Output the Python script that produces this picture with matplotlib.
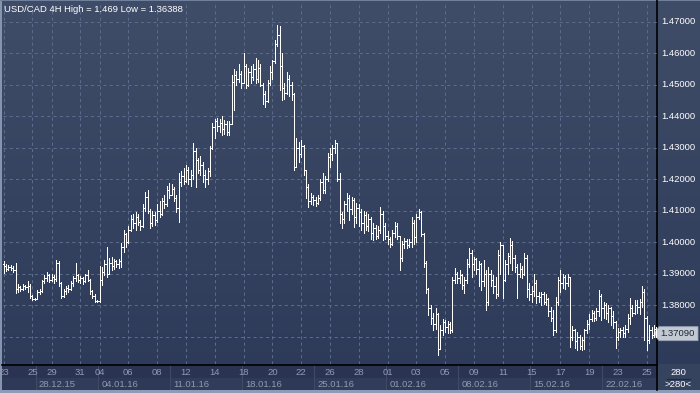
import numpy as np
import pandas as pd
import matplotlib
matplotlib.use("Agg")
import matplotlib.pyplot as plt
from matplotlib.patches import Rectangle, Polygon
from matplotlib.lines import Line2D

# ---------------- data (USD/CAD, 4H bars) ----------------
title_text = "USD/CAD 4H High = 1.469 Low = 1.36388"
last_price = 1.3709
last_price_label = "1.37090"
bar_count_label = "280"
bar_count_label2 = ">280<"

trading_days = pd.bdate_range("2015-12-23", "2016-02-25")
short_days = {"2015-12-25": 2, "2016-01-01": 2, "2016-02-25": 5}

open0 = 1.3930
closes = [
    1.3925, 1.3915, 1.3922, 1.3918, 1.3912, 1.3850,
    1.3858, 1.3850, 1.3860, 1.3856, 1.3862, 1.3830,
    1.3818, 1.3818,
    1.3840, 1.3845, 1.3875, 1.3885, 1.3895, 1.3880,
    1.3890, 1.3882, 1.3935, 1.3870, 1.3830, 1.3845,
    1.3855, 1.3850, 1.3870, 1.3885, 1.3895, 1.3880,
    1.3885, 1.3875, 1.3895, 1.3880, 1.3845, 1.3830,
    1.3812, 1.3812,
    1.3880, 1.3905, 1.3930, 1.3900, 1.3935, 1.3925,
    1.3940, 1.3930, 1.3940, 1.3985, 1.4025, 1.4000,
    1.4040, 1.4075, 1.4060, 1.4080, 1.4065, 1.4050,
    1.4110, 1.4145, 1.4100, 1.4060, 1.4085, 1.4070,
    1.4100, 1.4090, 1.4130, 1.4120, 1.4165, 1.4150,
    1.4170, 1.4140, 1.4110, 1.4190, 1.4210, 1.4195,
    1.4230, 1.4200, 1.4215, 1.4290, 1.4260, 1.4230,
    1.4245, 1.4215, 1.4200, 1.4225, 1.4300, 1.4365,
    1.4385, 1.4370, 1.4380, 1.4360, 1.4375, 1.4350,
    1.4375, 1.4510, 1.4530, 1.4520, 1.4535, 1.4505,
    1.4560, 1.4500, 1.4540, 1.4525, 1.4550, 1.4520,
    1.4555, 1.4500, 1.4470, 1.4450, 1.4505, 1.4540,
    1.4575, 1.4630, 1.4660, 1.4560, 1.4490, 1.4475,
    1.4520, 1.4500, 1.4470, 1.4240, 1.4300, 1.4280,
    1.4305, 1.4230, 1.4175, 1.4130, 1.4145, 1.4135,
    1.4125, 1.4140, 1.4190, 1.4165, 1.4200, 1.4270,
    1.4280, 1.4300, 1.4315, 1.4200, 1.4090, 1.4075,
    1.4120, 1.4140, 1.4105, 1.4135, 1.4080, 1.4110,
    1.4095, 1.4060, 1.4085, 1.4050, 1.4075, 1.4030,
    1.4045, 1.4020, 1.4040, 1.4090, 1.4050, 1.4020,
    1.4010, 1.3995, 1.4030, 1.4050, 1.4020, 1.3950,
    1.3995, 1.4005, 1.3990, 1.4000, 1.4060, 1.4015,
    1.4080, 1.4095, 1.4025, 1.3935, 1.3850, 1.3790,
    1.3760, 1.3740, 1.3770, 1.3660, 1.3720, 1.3745,
    1.3730, 1.3740, 1.3720, 1.3880, 1.3900, 1.3885,
    1.3895, 1.3865, 1.3880, 1.3930, 1.3965, 1.3930,
    1.3945, 1.3915, 1.3930, 1.3875, 1.3900, 1.3810,
    1.3900, 1.3880, 1.3860, 1.3835, 1.3960, 1.3990,
    1.3880, 1.3930, 1.3955, 1.3990, 1.3950, 1.3920,
    1.3900, 1.3915, 1.3900, 1.3950, 1.3850, 1.3835,
    1.3845, 1.3870, 1.3830, 1.3825, 1.3835, 1.3810,
    1.3820, 1.3780, 1.3760, 1.3720, 1.3810, 1.3880,
    1.3870, 1.3890, 1.3870, 1.3890, 1.3700, 1.3720,
    1.3685, 1.3700, 1.3670, 1.3690, 1.3720, 1.3740,
    1.3755, 1.3775, 1.3760, 1.3780, 1.3830, 1.3790,
    1.3800, 1.3775, 1.3790, 1.3765, 1.3745, 1.3700,
    1.3715, 1.3720, 1.3710, 1.3725, 1.3760, 1.3790,
    1.3775, 1.3800, 1.3795, 1.3810, 1.3840, 1.3760,
    1.3690, 1.3720, 1.3705, 1.3725, 1.3709,
]
highs = [
    1.3940, 1.3930, 1.3928, 1.3926, 1.3924, 1.3935,
    1.3866, 1.3862, 1.3866, 1.3864, 1.3875, 1.3868,
    1.3832, 1.3822,
    1.3848, 1.3852, 1.3880, 1.3895, 1.3905, 1.3900,
    1.3898, 1.3895, 1.3942, 1.3940, 1.3872, 1.3850,
    1.3860, 1.3865, 1.3875, 1.3892, 1.3934, 1.3900,
    1.3892, 1.3888, 1.3900, 1.3912, 1.3882, 1.3848,
    1.3835, 1.3815,
    1.3925, 1.3920, 1.3943, 1.3985, 1.3950, 1.3954,
    1.3948, 1.3943, 1.3945, 1.3996, 1.4039, 1.4030,
    1.4050, 1.4085, 1.4090, 1.4095, 1.4088, 1.4072,
    1.4120, 1.4160, 1.4166, 1.4105, 1.4100, 1.4095,
    1.4120, 1.4130, 1.4140, 1.4150, 1.4180, 1.4188,
    1.4185, 1.4175, 1.4150, 1.4220, 1.4225, 1.4235,
    1.4245, 1.4240, 1.4228, 1.4315, 1.4300, 1.4268,
    1.4275, 1.4255, 1.4230, 1.4235, 1.4305, 1.4380,
    1.4390, 1.4395, 1.4392, 1.4400, 1.4388, 1.4385,
    1.4385, 1.4531, 1.4550, 1.4545, 1.4565, 1.4545,
    1.4600, 1.4565, 1.4555, 1.4560, 1.4565, 1.4585,
    1.4580, 1.4565, 1.4505, 1.4480, 1.4515, 1.4560,
    1.4580, 1.4643, 1.4691, 1.4688, 1.4600, 1.4505,
    1.4542, 1.4530, 1.4510, 1.4475, 1.4331, 1.4320,
    1.4325, 1.4310, 1.4219, 1.4185, 1.4155, 1.4150,
    1.4145, 1.4150, 1.4200, 1.4219, 1.4210, 1.4285,
    1.4300, 1.4310, 1.4325, 1.4310, 1.4219, 1.4097,
    1.4130, 1.4155, 1.4150, 1.4145, 1.4140, 1.4123,
    1.4120, 1.4105, 1.4100, 1.4095, 1.4090, 1.4080,
    1.4060, 1.4055, 1.4050, 1.4113, 1.4100, 1.4060,
    1.4035, 1.4017, 1.4040, 1.4065, 1.4060, 1.4007,
    1.4005, 1.4012, 1.4010, 1.4010, 1.4081, 1.4070,
    1.4090, 1.4105, 1.4100, 1.4030, 1.3940, 1.3853,
    1.3800, 1.3775, 1.3790, 1.3775, 1.3735, 1.3757,
    1.3752, 1.3750, 1.3745, 1.3890, 1.3917, 1.3905,
    1.3910, 1.3900, 1.3890, 1.3945, 1.3980, 1.3975,
    1.3954, 1.3950, 1.3940, 1.3935, 1.3943, 1.3910,
    1.3922, 1.3910, 1.3895, 1.3890, 1.3975, 1.4001,
    1.3975, 1.3943, 1.3965, 1.4012, 1.4005, 1.3960,
    1.3930, 1.3933, 1.3925, 1.3965, 1.3960, 1.3870,
    1.3860, 1.3900, 1.3880, 1.3843, 1.3843, 1.3840,
    1.3835, 1.3822, 1.3795, 1.3785, 1.3827, 1.3890,
    1.3912, 1.3900, 1.3895, 1.3900, 1.3885, 1.3732,
    1.3725, 1.3715, 1.3705, 1.3700, 1.3725, 1.3753,
    1.3770, 1.3785, 1.3780, 1.3790, 1.3848, 1.3835,
    1.3810, 1.3805, 1.3800, 1.3795, 1.3780, 1.3748,
    1.3727, 1.3727, 1.3730, 1.3735, 1.3770, 1.3822,
    1.3800, 1.3817, 1.3815, 1.3820, 1.3859, 1.3850,
    1.3765, 1.3737, 1.3730, 1.3737, 1.3730,
]
lows = [
    1.3902, 1.3908, 1.3910, 1.3912, 1.3905, 1.3838,
    1.3840, 1.3845, 1.3848, 1.3850, 1.3842, 1.3822,
    1.3815, 1.3815,
    1.3818, 1.3835, 1.3840, 1.3870, 1.3878, 1.3872,
    1.3875, 1.3870, 1.3878, 1.3860, 1.3822, 1.3825,
    1.3835, 1.3840, 1.3848, 1.3860, 1.3876, 1.3872,
    1.3870, 1.3868, 1.3872, 1.3876, 1.3835, 1.3822,
    1.3810, 1.3810,
    1.3810, 1.3865, 1.3895, 1.3888, 1.3905, 1.3912,
    1.3915, 1.3920, 1.3918, 1.3922, 1.3970, 1.3985,
    1.3996, 1.4035, 1.4045, 1.4040, 1.4055, 1.4040,
    1.4048, 1.4100, 1.4092, 1.4045, 1.4050, 1.4055,
    1.4065, 1.4080, 1.4085, 1.4110, 1.4115, 1.4140,
    1.4150, 1.4130, 1.4097, 1.4065, 1.4180, 1.4185,
    1.4190, 1.4185, 1.4178, 1.4200, 1.4176, 1.4220,
    1.4215, 1.4190, 1.4176, 1.4185, 1.4210, 1.4295,
    1.4330, 1.4355, 1.4350, 1.4340, 1.4345, 1.4340,
    1.4340, 1.4385, 1.4420, 1.4500, 1.4510, 1.4490,
    1.4520, 1.4490, 1.4495, 1.4505, 1.4515, 1.4505,
    1.4510, 1.4495, 1.4440, 1.4431, 1.4445, 1.4500,
    1.4520, 1.4570, 1.4625, 1.4484, 1.4452, 1.4455,
    1.4470, 1.4465, 1.4452, 1.4229, 1.4240, 1.4255,
    1.4270, 1.4215, 1.4140, 1.4113, 1.4120, 1.4119,
    1.4115, 1.4120, 1.4135, 1.4155, 1.4155, 1.4195,
    1.4240, 1.4262, 1.4285, 1.4193, 1.4060, 1.4044,
    1.4060, 1.4100, 1.4070, 1.4090, 1.4049, 1.4060,
    1.4050, 1.4040, 1.4028, 1.4040, 1.4035, 1.4010,
    1.4007, 1.4010, 1.4012, 1.4030, 1.4008, 1.4010,
    1.3995, 1.3985, 1.3990, 1.4017, 1.4010, 1.3911,
    1.3940, 1.3980, 1.3982, 1.3985, 1.3985, 1.3995,
    1.4000, 1.4075, 1.4020, 1.3920, 1.3837, 1.3768,
    1.3740, 1.3720, 1.3725, 1.3641, 1.3660, 1.3705,
    1.3715, 1.3712, 1.3710, 1.3715, 1.3870, 1.3869,
    1.3870, 1.3850, 1.3837, 1.3870, 1.3920, 1.3890,
    1.3910, 1.3900, 1.3860, 1.3848, 1.3860, 1.3784,
    1.3800, 1.3860, 1.3837, 1.3821, 1.3830, 1.3900,
    1.3821, 1.3875, 1.3900, 1.3935, 1.3911, 1.3905,
    1.3821, 1.3890, 1.3885, 1.3895, 1.3827, 1.3815,
    1.3811, 1.3830, 1.3806, 1.3810, 1.3800, 1.3802,
    1.3800, 1.3765, 1.3748, 1.3705, 1.3715, 1.3800,
    1.3843, 1.3855, 1.3850, 1.3860, 1.3668, 1.3690,
    1.3665, 1.3658, 1.3660, 1.3658, 1.3660, 1.3711,
    1.3725, 1.3748, 1.3750, 1.3752, 1.3765, 1.3753,
    1.3760, 1.3755, 1.3745, 1.3735, 1.3727, 1.3663,
    1.3690, 1.3700, 1.3700, 1.3700, 1.3715, 1.3740,
    1.3765, 1.3770, 1.3775, 1.3770, 1.3795, 1.3690,
    1.3658, 1.3680, 1.3695, 1.3700, 1.3700,
]
price_ticks = [1.37, 1.38, 1.39, 1.40, 1.41, 1.42, 1.43, 1.44, 1.45, 1.46, 1.47]

# ---------------- geometry helpers ----------------
W, H = 700, 393
fig = plt.figure(figsize=(W / 100, H / 100), dpi=100)

def fx(x):
    return x / W

def fy(y):
    return 1 - y / H

FONT = ["Liberation Sans", "DejaVu Sans"]

# background gradient for whole figure
bg = fig.add_axes([0, 0, 1, 1], zorder=0)
bg.set_xlim(0, W)
bg.set_ylim(H, 0)
bg.axis("off")
top_c = np.array([64, 77, 104]) / 255
bot_c = np.array([44, 57, 88]) / 255
t = np.linspace(0, 1, 256)[:, None]
grad = top_c[None, :] * (1 - t) + bot_c[None, :] * t
bg.imshow(grad[:, None, :], extent=[0, W, H, 0], aspect="auto", zorder=0)

# bottom date-axis strip
bg.add_patch(Rectangle((0, 364), 657, 26, facecolor="#2a3452", edgecolor="none", zorder=1))
# right-bottom corner box
bg.add_patch(Rectangle((657, 364), 43, 26, facecolor="#36435f", edgecolor="none", zorder=1))
# borders
bg.add_patch(Rectangle((0, 0), 2, H, facecolor="#8595b0", edgecolor="none", zorder=5))
bg.add_patch(Rectangle((0, 390), W, 3, facecolor="#8d9cb6", edgecolor="none", zorder=5))
bg.add_patch(Rectangle((0, 0), W, 1, facecolor="#6f7f9c", edgecolor="none", zorder=5))

# ---------------- main price axes ----------------
n = len(closes)
idx = np.arange(n)
closes_a = np.array(closes)
opens_a = np.concatenate([[open0], closes_a[:-1]])
highs_a = np.maximum.reduce([np.array(highs), opens_a, closes_a])
lows_a = np.minimum.reduce([np.array(lows), opens_a, closes_a])

x_left, x_right, y_top, y_bot = 3, 657, 2, 364
ax = fig.add_axes([fx(x_left), fy(y_bot), fx(x_right - x_left), (y_bot - y_top) / H], zorder=2)
ax.patch.set_alpha(0)
for s in ax.spines.values():
    s.set_visible(False)
ax.set_xticks([])
ax.set_yticks([])

px_per_bar = 2.4
x0_bar = 3.5
ax.set_xlim((x_left - x0_bar) / px_per_bar, (x_right - x0_bar) / px_per_bar)
ppx = 3145.0  # pixels per unit price
ax.set_ylim(1.47 - (y_bot - 22) / ppx, 1.47 + (22 - y_top) / ppx)

# day structure
bars_per_day = [short_days.get(d.strftime("%Y-%m-%d"), 6) for d in trading_days]
day_start = np.concatenate([[0], np.cumsum(bars_per_day)[:-1]])

grid_c = "#5b6b8b"
for p in price_ticks:
    ax.axhline(p, color=grid_c, lw=0.75, ls=(0, (3, 3)), zorder=1)
for k in range(0, len(trading_days), 2):
    ax.axvline(day_start[k], color=grid_c, lw=0.75, ls=(0, (3, 3)), zorder=1)

# OHLC bars (1-pixel lines)
lw = 0.72
ax.vlines(idx, lows_a, highs_a, color="white", lw=lw, antialiased=False, zorder=3)
ax.hlines(opens_a, idx - 0.45, idx, color="white", lw=lw, antialiased=False, zorder=3)
ax.hlines(closes_a, idx, idx + 0.45, color="white", lw=lw, antialiased=False, zorder=3)

# title
fig.text(fx(4), fy(9), title_text, color="white", fontsize=6.8, family=FONT, va="center", ha="left", zorder=10)

# ---------------- right price scale ----------------
def price_to_y(p):
    return 22 + (1.47 - p) * ppx

yl = price_to_y(last_price)
for p in price_ticks:
    yp = price_to_y(p)
    if abs(yp - yl) < 12:
        continue  # hidden under the last-price tag
    fig.text(fx(661), fy(yp), f"{p:.5f}", color="white", fontsize=6.8,
             family=FONT, va="center", ha="left", zorder=10)

# separators (black)
bg.add_line(Line2D([657, 657], [0, 390], color="black", lw=1.2, zorder=6))
bg.add_line(Line2D([2, 657], [364.5, 364.5], color="black", lw=1.2, zorder=6))

# last price tag
tag = Polygon([[654, yl], [659, yl - 7], [698, yl - 7], [698, yl + 7], [659, yl + 7]],
              closed=True, facecolor="#c3c9d3", edgecolor="#9aa3b3", lw=0.6, zorder=7)
bg.add_patch(tag)
fig.text(fx(660), fy(yl), last_price_label, color="#1d2435", fontsize=6.8, family=FONT,
         va="center", ha="left", zorder=11)

# ---------------- date axis ----------------
day_c = "#8e9ab3"
for k in range(0, len(trading_days), 2):
    xp = x0_bar + day_start[k] * px_per_bar
    txt = fig.text(fx(xp), fy(372.5), trading_days[k].strftime("%d"), color=day_c, fontsize=6.8,
                   family=FONT, va="center", ha="center", zorder=8)
    if k == 0:
        txt.set_clip_on(True)
        txt.set_clip_box(bg.bbox)

# week boxes
week_starts = [k for k, d in enumerate(trading_days) if k == 0 or d.weekday() < trading_days[k - 1].weekday()]
for j, k in enumerate(week_starts):
    xs = x0_bar + (day_start[k] - 0.5) * px_per_bar
    xe = x0_bar + ((day_start[week_starts[j + 1]] if j + 1 < len(week_starts) else n) - 0.5) * px_per_bar
    xs = max(xs, 2)
    xe = min(xe, 657)
    bg.add_patch(Rectangle((xs, 378), xe - xs, 12, facecolor="#313c5b" if j % 2 else "#2e3957",
                           edgecolor="none", zorder=2))
    if j > 0:
        bg.add_line(Line2D([xs, xs], [365, 390], color="#3e4a68", lw=0.8, zorder=3))
        monday = trading_days[k] - pd.Timedelta(days=trading_days[k].weekday())
        fig.text(fx(xs + 3), fy(384.5), monday.strftime("%d.%m.%y"), color=day_c, fontsize=6.8,
                 family=FONT, va="center", ha="left", zorder=8)

# bottom-right box texts
fig.text(fx(678.5), fy(372.5), bar_count_label, color="white", fontsize=6.8, family=FONT,
         va="center", ha="center", zorder=8)
bg.add_line(Line2D([667, 690], [378.5, 378.5], color="#20283c", lw=0.8, zorder=6))
fig.text(fx(678.5), fy(384.5), bar_count_label2, color="white", fontsize=6.8, family=FONT,
         va="center", ha="center", zorder=8)

fig.savefig("out.png", dpi=100)
